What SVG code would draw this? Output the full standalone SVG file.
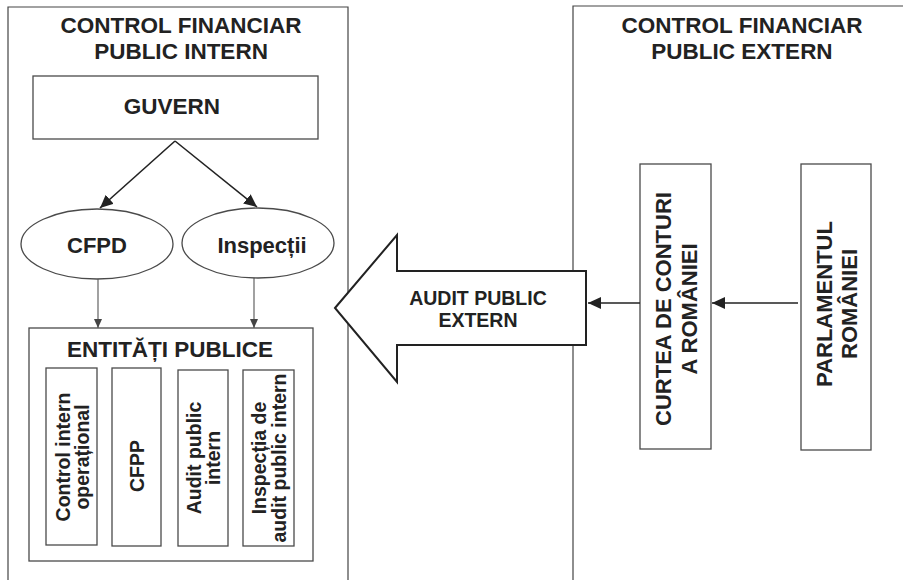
<svg xmlns="http://www.w3.org/2000/svg" width="903" height="580" viewBox="0 0 903 580">
<style>
  .t{font-family:"Liberation Sans",Arial,sans-serif;font-weight:bold;fill:#222;text-anchor:middle}
  .frame{fill:none;stroke:#444;stroke-width:1.2}
  .box{fill:#fff;stroke:#4a4a4a;stroke-width:1.3}
  .c1{fill:none;stroke:#222;stroke-width:1.6}
  .c2{fill:none;stroke:#555;stroke-width:1.1}
</style>
<defs>
  <marker id="ah" markerUnits="userSpaceOnUse" markerWidth="14" markerHeight="12" refX="13" refY="6" orient="auto">
    <path d="M0,0 L13,6 L0,12 Z" fill="#222"/>
  </marker>
  <marker id="ah2" markerUnits="userSpaceOnUse" markerWidth="10" markerHeight="8" refX="9" refY="4" orient="auto">
    <path d="M0,0 L9,4 L0,8 Z" fill="#444"/>
  </marker>
</defs>
<rect width="903" height="580" fill="#fff"/>

<g id="cfpi">
  <path class="frame" d="M8,580 V7 H348 V580"/>
  <text class="t" font-size="22.5" x="181" y="33">CONTROL FINANCIAR</text>
  <text class="t" font-size="22.5" x="181" y="59">PUBLIC INTERN</text>
</g>

<g id="cfpe">
  <path class="frame" d="M573,580 V6 H903"/>
  <text class="t" font-size="22.5" x="742" y="33">CONTROL FINANCIAR</text>
  <text class="t" font-size="22.5" x="742" y="59">PUBLIC EXTERN</text>
</g>

<g id="guvern">
  <rect class="box" x="33" y="76" width="285" height="63"/>
  <text class="t" font-size="22.5" x="172" y="114">GUVERN</text>
</g>

<g id="cfpd">
  <ellipse class="box" cx="97" cy="244" rx="76" ry="35"/>
  <text class="t" font-size="22" x="97" y="253">CFPD</text>
</g>

<g id="inspectii">
  <ellipse class="box" cx="258" cy="243" rx="76" ry="35"/>
  <text class="t" font-size="22" x="262" y="253">Inspecții</text>
</g>

<g id="entitati">
  <rect class="box" x="29" y="328" width="284" height="233"/>
  <text class="t" font-size="22.5" x="170" y="357">ENTITĂȚI PUBLICE</text>
</g>

<g id="control-intern">
  <rect class="box" x="46" y="368" width="51" height="177"/>
  <text class="t" font-size="19.5" transform="translate(71.5,457) rotate(-90)"><tspan x="0" y="-2">Control intern</tspan><tspan x="0" y="17">operațional</tspan></text>
</g>

<g id="cfpp">
  <rect class="box" x="112" y="368" width="49" height="178"/>
  <text class="t" font-size="19.5" transform="translate(136.5,466) rotate(-90)" x="0" y="7">CFPP</text>
</g>

<g id="audit-public-intern">
  <rect class="box" x="178" y="370" width="50" height="176"/>
  <text class="t" font-size="19.5" transform="translate(203,458) rotate(-90)"><tspan x="0" y="-2">Audit public</tspan><tspan x="0" y="17">intern</tspan></text>
</g>

<g id="inspectia-audit">
  <rect class="box" x="243" y="370" width="51" height="176"/>
  <text class="t" font-size="19.5" transform="translate(268.5,458) rotate(-90)"><tspan x="0" y="-3">Inspecția de</tspan><tspan x="0" y="17">audit public intern</tspan></text>
</g>

<g id="curtea">
  <rect class="box" x="640" y="164" width="71" height="285"/>
  <text class="t" font-size="22" transform="translate(675.5,309) rotate(-90)"><tspan x="0" y="-5">CURTEA DE CONTURI</tspan><tspan x="0" y="21">A ROMÂNIEI</tspan></text>
</g>

<g id="parlamentul">
  <rect class="box" x="801" y="164" width="70" height="286"/>
  <text class="t" font-size="22" transform="translate(837,304) rotate(-90)"><tspan x="0" y="-5">PARLAMENTUL</tspan><tspan x="0" y="20">ROMÂNIEI</tspan></text>
</g>

<g id="audit-public-extern">
  <polygon points="335,308 397,235 397,271 586,271 586,345 397,345 397,382" fill="#fff" stroke="#222" stroke-width="2"/>
  <text class="t" font-size="19.5" x="478" y="305">AUDIT PUBLIC</text>
  <text class="t" font-size="19.5" x="478" y="327">EXTERN</text>
</g>

<g id="connectors">
  <line class="c1" x1="175" y1="141" x2="100" y2="208" marker-end="url(#ah)"/>
  <line class="c1" x1="175" y1="141" x2="257" y2="207" marker-end="url(#ah)"/>
  <line class="c2" x1="98" y1="279" x2="98" y2="328" marker-end="url(#ah2)"/>
  <line class="c2" x1="254" y1="278" x2="254" y2="328" marker-end="url(#ah2)"/>
  <line class="c1" x1="640" y1="303" x2="588" y2="303" marker-end="url(#ah)"/>
  <line class="c1" x1="798" y1="303" x2="712" y2="303" marker-end="url(#ah)"/>
</g>
</svg>
